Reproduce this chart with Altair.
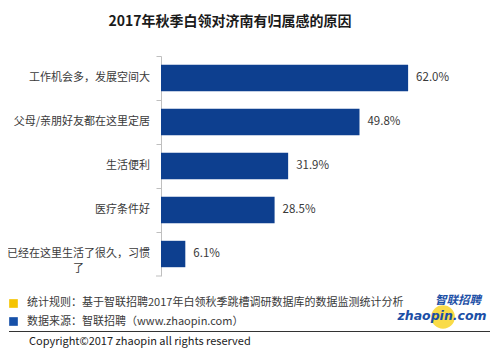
import altair as alt
import pandas as pd

categories = ["工作机会多，发展空间大", "父母/亲朋好友都在这里定居", "生活便利", "医疗条件好", "已经在这里生活了很久，习惯了"]
labels = ["工作机会多，发展空间大", "父母/亲朋好友都在这里定居", "生活便利", "医疗条件好", "已经在这里生活了很久，习惯\n了"]
values = [62.0, 49.8, 31.9, 28.5, 6.1]
title_text = "2017年秋季白领对济南有归属感的原因"
note1 = "统计规则：基于智联招聘2017年白领秋季跳槽调研数据库的数据监测统计分析"
note2 = "数据来源：智联招聘（www.zhaopin.com）"
copyright_text = "Copyright©2017 zhaopin all rights reserved"
logo1 = "智联招聘"
logo2 = "zhaopin.com"

FONT = "Noto Sans CJK SC"
BAR = "#0d3f8f"
TXT = "#3a3a3a"

df = pd.DataFrame({"category": categories, "label": labels, "value": values,
                   "last": [False, False, False, False, True]})

W, H = 279, 220

y_enc = alt.Y("category:N", sort=categories,
              scale=alt.Scale(paddingInner=0.4, paddingOuter=0.2),
              axis=alt.Axis(labels=False, title=None, domainColor="#bfbfbf",
                            tickColor="#bfbfbf", tickSize=5, bandPosition=-1/3,
                            domainWidth=1))
x_enc = alt.X("value:Q", scale=alt.Scale(domain=[0, 70]), axis=None)

base = alt.Chart(df)

bars = base.mark_bar(color=BAR).encode(x=x_enc, y=y_enc)

vals = base.transform_calculate(txt="format(datum.value, '.1f') + '%'").mark_text(
    align="left", baseline="middle", dx=8, font=FONT, fontSize=11.5, color=TXT
).encode(x=x_enc, y=alt.Y("category:N", sort=categories), text="txt:N")

lab_main = base.transform_filter("!datum.last").mark_text(
    align="right", baseline="middle", font=FONT, fontSize=11, color=TXT
).encode(x=alt.value(-11), y=alt.Y("category:N", sort=categories), text="label:N")

lab_last = base.transform_filter("datum.last").mark_text(
    align="center", baseline="middle", font=FONT, fontSize=11, color=TXT,
    lineBreak="\n", lineHeight=15
).encode(x=alt.value(-82.5), y=alt.Y("category:N", sort=categories), text="label:N")

bottom_tick = base.transform_filter("datum.last").mark_rule(color="#bfbfbf").encode(
    x=alt.value(-5), x2=alt.value(0), y=alt.value(H))

tdf = pd.DataFrame({"t": [title_text]})
title = alt.Chart(tdf).mark_text(font=FONT, fontSize=14, fontWeight="bold",
                                 color="#1a1a1a", align="center", baseline="middle").encode(
    x=alt.value(69), y=alt.value(-34), text="t:N")

ndf = pd.DataFrame({"t": [note1, note2], "i": [0, 1]})
sq1 = alt.Chart(ndf).transform_filter("datum.i == 0").mark_square(size=75, opacity=1).encode(
    x=alt.value(-147.5), y=alt.value(247.5), color=alt.ColorValue("#f5c400"))
sq2 = alt.Chart(ndf).transform_filter("datum.i == 1").mark_square(size=75, opacity=1).encode(
    x=alt.value(-147.5), y=alt.value(265.5), color=alt.ColorValue("#1650a8"))
nt1 = alt.Chart(ndf).transform_filter("datum.i == 0").mark_text(
    font=FONT, fontSize=11, color=TXT, align="left", baseline="middle").encode(
    x=alt.value(-134), y=alt.value(247), text="t:N")
nt2 = alt.Chart(ndf).transform_filter("datum.i == 1").mark_text(
    font=FONT, fontSize=11, color=TXT, align="left", baseline="middle").encode(
    x=alt.value(-134), y=alt.value(265.5), text="t:N")

sep = alt.Chart(tdf).mark_rule(color="#333333", strokeWidth=1.2).encode(
    x=alt.value(-152), x2=alt.value(329), y=alt.value(275.5))

cdf = pd.DataFrame({"t": [copyright_text]})
copy_t = alt.Chart(cdf).mark_text(font=FONT, fontSize=11, color="#222222",
                                  align="left", baseline="middle").encode(
    x=alt.value(-132), y=alt.value(286), text="t:N")

ldf = pd.DataFrame({"a": [logo1], "b": [logo2]})
circ = alt.Chart(ldf).mark_circle(size=560, opacity=0.8, color="#f7d21a").encode(
    x=alt.value(282), y=alt.value(261))
lg1 = alt.Chart(ldf).mark_text(font=FONT, fontSize=11.5, fontWeight="bold", fontStyle="italic",
                               color="#1c4fa6", align="center", baseline="middle").encode(
    x=alt.value(297), y=alt.value(245), text="a:N")
lg2 = alt.Chart(ldf).mark_text(font="DejaVu Sans", fontSize=12.5, fontWeight="bold", fontStyle="italic",
                               color="#1c4fa6", align="center", baseline="middle").encode(
    x=alt.value(281), y=alt.value(260), text="b:N")

chart = alt.layer(bars, vals, lab_main, lab_last, bottom_tick, title,
                  sq1, sq2, nt1, nt2, sep, copy_t, circ, lg1, lg2).properties(
    width=W, height=H,
    padding={"left": 153, "top": 48, "right": 52, "bottom": 72},
    autosize=alt.AutoSizeParams(type="none"),
    background="white",
).configure_view(stroke="transparent", strokeWidth=0)

chart.save("out.html", embed_options={"renderer": "svg", "actions": False})
